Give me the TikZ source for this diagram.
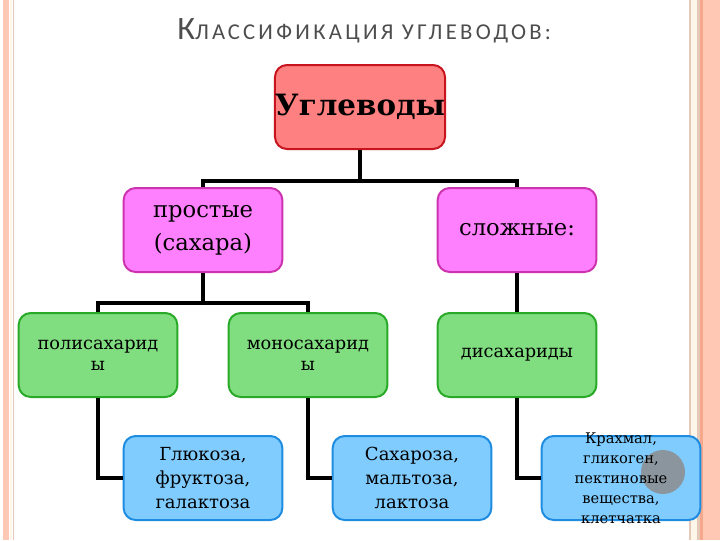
\documentclass[tikz,border=0pt]{standalone}
\usepackage{fontspec}
\setmainfont{DejaVu Serif}
\newfontfamily\titlefont{Carlito}
\newfontfamily\titlewide[LetterSpace=14.5]{Carlito}
\usepackage{xcolor}
\definecolor{stripe}{RGB}{255,200,180}
\definecolor{stripedk}{RGB}{245,168,138}
\definecolor{stripetan}{RGB}{228,200,184}
\definecolor{stripecr}{RGB}{255,246,234}
\definecolor{titlegray}{RGB}{77,77,77}
\definecolor{redfill}{RGB}{255,128,128}
\definecolor{redbord}{RGB}{200,20,30}
\definecolor{magfill}{RGB}{255,128,255}
\definecolor{magbord}{RGB}{205,50,175}
\definecolor{grnfill}{RGB}{128,221,128}
\definecolor{grnbord}{RGB}{40,170,40}
\definecolor{bluefill}{RGB}{128,204,255}
\definecolor{bluebord}{RGB}{30,140,225}

\begin{document}
\begin{tikzpicture}[
  x=0.75pt, y=-0.75pt,
  box/.style={
    rectangle, rounded corners=9pt, line width=1.5pt,
    minimum width=119pt, minimum height=63pt,
    inner xsep=0pt, inner ysep=0pt, align=center, text=black
  },
  topbox/.style={box, draw=redbord, fill=redfill, minimum width=120pt,
    font=\fontsize{22}{26}\selectfont\bfseries},
  kindbox/.style={box, draw=magbord, fill=magfill,
    font=\fontsize{17}{25}\selectfont},
  groupbox/.style={box, draw=grnbord, fill=grnfill,
    font=\fontsize{13.3}{16}\selectfont},
  itembox/.style={box, draw=bluebord, fill=bluefill,
    font=\fontsize{13.5}{18}\selectfont},
  link/.style={line width=3.6pt, black}
]
\useasboundingbox (0,0) rectangle (720,540);

%% ── Side stripes ─────────────────────────────────────────────────────────────
\fill[stripe]    (3,0)   rectangle (9,540);
\fill[stripecr]  (10,0)  rectangle (12,540);
\fill[stripetan] (13,0)  rectangle (14,540);
\fill[stripetan] (689,0) rectangle (691,540);
\fill[stripecr]  (691,0) rectangle (697,540);
\fill[stripetan] (697,0) rectangle (700,540);
\fill[stripedk]  (700,0) rectangle (703,540);
\fill[stripe]    (703,0) rectangle (720,540);

%% ── Title ────────────────────────────────────────────────────────────────────
\node[anchor=base west, inner sep=0pt, text=titlegray]
  (title) at (177,39)
  {{\titlefont\fontsize{24.5}{26}\selectfont К}{\titlewide\fontsize{17}{20}\selectfont ЛАССИФИКАЦИЯ УГЛЕВОДОВ:}};

%% ── Boxes ────────────────────────────────────────────────────────────────────
\node[topbox]   (ugl)  at (360,107) {Углеводы};

\node[kindbox]  (prost) at (203,230) {простые\\(сахара)};
\node[kindbox]  (slozh) at (517,230) {сложные:};

\node[groupbox] (poly) at (98,355)  {полисахарид\\ы};
\node[groupbox] (mono) at (308,355) {моносахарид\\ы};
\node[groupbox] (di)   at (517,355) {дисахариды};

\node[itembox]  (glu)  at (203,478) {Глюкоза,\\фруктоза,\\галактоза};
\node[itembox]  (sah)  at (412,478) {Сахароза,\\мальтоза,\\лактоза};
\node[itembox]  (kr)   at (621,478) {};

%% the grey spot over the last box
\fill[gray!90, opacity=0.85] (663,472) circle (16.5pt);
\node[align=center, inner sep=0pt, font=\fontsize{11}{15}\selectfont]
  (krtext) at (kr) {Крахмал,\\гликоген,\\пектиновые\\вещества,\\клетчатка};

%% ── Links ────────────────────────────────────────────────────────────────────
\draw[link] (ugl.south) -- ++(0,31) -| (prost.north);
\draw[link] (ugl.south) -- ++(0,31) -| (slozh.north);
\draw[link] (prost.south) -- ++(0,30) -| (poly.north);
\draw[link] (prost.south) -- ++(0,30) -| (mono.north);
\draw[link] (slozh.south) -- (di.north);
\draw[link] (poly.south) |- (glu.west);
\draw[link] (mono.south) |- (sah.west);
\draw[link] (di.south)   |- (kr.west);

\end{tikzpicture}
\end{document}
